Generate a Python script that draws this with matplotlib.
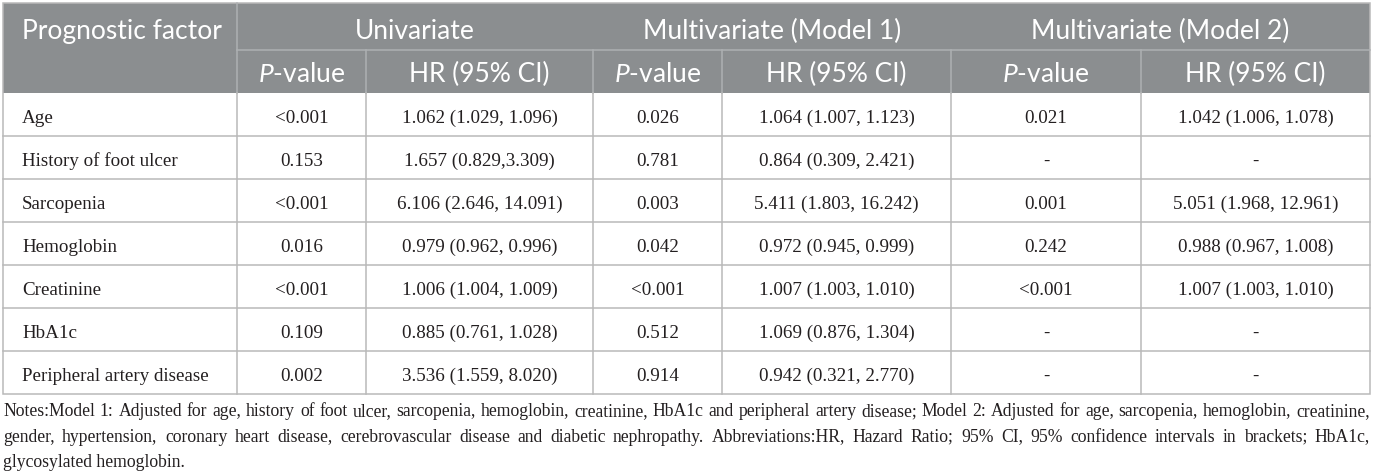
import matplotlib
matplotlib.use("Agg")
import matplotlib.pyplot as plt
from matplotlib.patches import Rectangle
from matplotlib.font_manager import FontProperties

# ---- table content -------------------------------------------------------------------------
factors = ["Age", "History of foot ulcer", "Sarcopenia", "Hemoglobin", "Creatinine", "HbA1c",
           "Peripheral artery disease"]
uni_p = ["<0.001", "0.153", "<0.001", "0.016", "<0.001", "0.109", "0.002"]
uni_hr = ["1.062 (1.029, 1.096)", "1.657 (0.829,3.309)", "6.106 (2.646, 14.091)",
          "0.979 (0.962, 0.996)", "1.006 (1.004, 1.009)", "0.885 (0.761, 1.028)",
          "3.536 (1.559, 8.020)"]
m1_p = ["0.026", "0.781", "0.003", "0.042", "<0.001", "0.512", "0.914"]
m1_hr = ["1.064 (1.007, 1.123)", "0.864 (0.309, 2.421)", "5.411 (1.803, 16.242)",
         "0.972 (0.945, 0.999)", "1.007 (1.003, 1.010)", "1.069 (0.876, 1.304)",
         "0.942 (0.321, 2.770)"]
m2_p = ["0.021", "-", "0.001", "0.242", "<0.001", "-", "-"]
m2_hr = ["1.042 (1.006, 1.078)", "-", "5.051 (1.968, 12.961)", "0.988 (0.967, 1.008)",
         "1.007 (1.003, 1.010)", "-", "-"]
groups = ["Univariate", "Multivariate (Model 1)", "Multivariate (Model 2)"]
subheads = [r"$\mathit{P}$-value", "HR (95% CI)"]
notes = ["Notes:Model 1: Adjusted for age, history of foot ulcer, sarcopenia, hemoglobin, creatinine, "
         "HbA1c and peripheral artery disease; Model 2: Adjusted for age, sarcopenia, hemoglobin, creatinine,",
         "gender, hypertension, coronary heart disease, cerebrovascular disease and diabetic nephropathy. "
         "Abbreviations:HR, Hazard Ratio; 95% CI, 95% confidence intervals in brackets; HbA1c,",
         "glycosylated hemoglobin."]

# ---- layout (pixels) -----------------------------------------------------------------------
W, H = 1375, 476
EDGES = [3, 237, 366, 593, 722, 951, 1141, 1370]
TOP, MID, HEAD = 3, 50, 93
ROW = 43
HEAD_BG, HEAD_LINE, GRID = "#8b8e90", "#aeb1b3", "#b9b9b9"
INK = "#231f20"
SANS, SERIF = "Lato", "Liberation Serif"

plt.rcParams["mathtext.fontset"] = "custom"
plt.rcParams["mathtext.it"] = SANS + ":italic"
plt.rcParams["mathtext.rm"] = SANS

fig = plt.figure(figsize=(W / 100, H / 100), dpi=100)
ax = fig.add_axes([0, 0, 1, 1])
ax.set_xlim(0, W); ax.set_ylim(H, 0); ax.axis("off")
rend = fig.canvas.get_renderer()


def width(s, fam, size):
    return rend.get_text_width_height_descent(s, FontProperties(family=fam, size=size), ismath=False)[0]


def fit(s, fam, target):
    return 10 * target / width(s, fam, 10)


hsize = fit("Prognostic factor", SANS, 200)
bsize = fit("History of foot ulcer", SERIF, 156)
nsize = fit(notes[0], SERIF, EDGES[-1] - EDGES[0] - 8)

nrow = len(factors)
bottom = HEAD + ROW * nrow

# header block
ax.add_patch(Rectangle((EDGES[0], TOP), EDGES[-1] - EDGES[0], HEAD - TOP, fc=HEAD_BG, ec="none"))
ax.plot([EDGES[1], EDGES[-1]], [MID, MID], color=HEAD_LINE, lw=1.1)
ax.plot([EDGES[1], EDGES[1]], [TOP, HEAD], color=HEAD_LINE, lw=1.1)
for x in EDGES[2:-1]:
    ax.plot([x, x], [MID, HEAD], color=HEAD_LINE, lw=1.1)

ax.text(EDGES[0] + 19, 39, "Prognostic factor", fontsize=hsize, family=SANS, color="white", va="baseline")
for g, lab in enumerate(groups):
    xc = (EDGES[1 + 2 * g] + EDGES[3 + 2 * g]) / 2
    ax.text(xc, 39, lab, fontsize=hsize, family=SANS, color="white", ha="center", va="baseline")
    for k, sub in enumerate(subheads):
        xc = (EDGES[1 + 2 * g + k] + EDGES[2 + 2 * g + k]) / 2
        ax.text(xc, 82, sub, fontsize=hsize, family=SANS, color="white", ha="center", va="baseline")

# body grid
for i in range(1, nrow):
    y = HEAD + ROW * i
    ax.plot([EDGES[0], EDGES[-1]], [y, y], color=GRID, lw=1.1)
for x in EDGES[1:-1]:
    ax.plot([x, x], [HEAD, bottom], color=GRID, lw=1.1)
ax.add_patch(Rectangle((EDGES[0], TOP), EDGES[-1] - EDGES[0], bottom - TOP, fc="none", ec=GRID, lw=1.1))

cols = [uni_p, uni_hr, m1_p, m1_hr, m2_p, m2_hr]
for i, name in enumerate(factors):
    yb = HEAD + ROW * i + 30
    ax.text(EDGES[0] + 19, yb, name, fontsize=bsize, family=SERIF, color=INK, va="baseline")
    for c, vals in enumerate(cols):
        xc = (EDGES[1 + c] + EDGES[2 + c]) / 2
        ax.text(xc, yb, vals[i], fontsize=bsize, family=SERIF, color=INK, ha="center", va="baseline")

# notes, justified like the journal layout
x0, x1 = EDGES[0], EDGES[-1]
for j, line in enumerate(notes):
    yb = 416 + 25.5 * j
    if j == len(notes) - 1:
        ax.text(x0, yb, line, fontsize=nsize, family=SERIF, color=INK, va="baseline")
        continue
    words = line.split(" ")
    ws = [width(w_, SERIF, nsize) for w_ in words]
    gap = (x1 - x0 - sum(ws)) / (len(words) - 1)
    x = x0
    for w_, wd in zip(words, ws):
        ax.text(x, yb, w_, fontsize=nsize, family=SERIF, color=INK, va="baseline")
        x += wd + gap

fig.savefig("out.png", dpi=100)
